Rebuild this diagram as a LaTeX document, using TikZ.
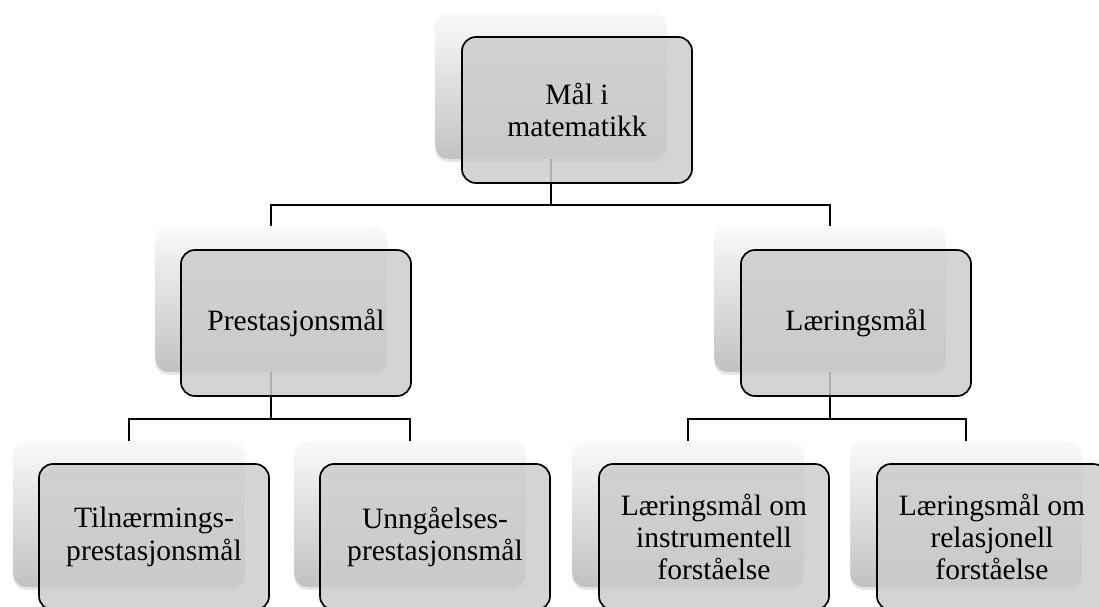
\documentclass[tikz,border=0pt]{standalone}
\usepackage{fontspec}
\setmainfont{Liberation Serif}
\usetikzlibrary{shadows}

\begin{document}
\begin{tikzpicture}[x=0.025cm,y=-0.025cm]
  \tikzset{back box/.style={rounded corners=9pt,minimum width=5.775cm,minimum height=3.65cm,top color=black!2,middle color=black!4,bottom color=black!24,drop shadow={opacity=0.2,shadow xshift=0pt,shadow yshift=-2pt}},
    goal box/.style={draw,line width=1.2pt,rounded corners=10pt,minimum width=5.75cm,minimum height=3.65cm,fill=black!20,fill opacity=0.85,text opacity=1,align=center,font=\fontsize{21}{23}\selectfont},
    link/.style={line width=1pt}}

  \useasboundingbox (0,0) rectangle (1099,606);

  % back boxes
  \node [back box] (malB) at (551,86) {};
  \node [back box] (preB) at (271,299) {};
  \node [back box] (laeB) at (830,299) {};
  \node [back box] (tilB) at (129,514) {};
  \node [back box] (unnB) at (410,514) {};
  \node [back box] (insB) at (688,514) {};
  \node [back box] (relB) at (966,514) {};

  % forks
  \coordinate (malFork) at (551,205);
  \coordinate (preFork) at (271,419);
  \coordinate (laeFork) at (830,419);

  \draw [link] (malB.south) -- (malFork) -| (preB.north);
  \draw [link] (malFork) -| (laeB.north);
  \draw [link] (preB.south) -- (preFork) -| (tilB.north);
  \draw [link] (preFork) -| (unnB.north);
  \draw [link] (laeB.south) -- (laeFork) -| (insB.north);
  \draw [link] (laeFork) -| (relB.north);

  % front boxes
  \node [goal box] (mal) at (577,110) {Mål i\\matematikk};
  \node [goal box] (pre) at (296,323) {Prestasjonsmål};
  \node [goal box] (lae) at (856,323) {Læringsmål};
  \node [goal box] (til) at (154,537) {Tilnærmings-\\prestasjonsmål};
  \node [goal box] (unn) at (435,537) {Unngåelses-\\prestasjonsmål};
  \node [goal box] (ins) at (714,537) {Læringsmål om\\instrumentell\\forståelse};
  \node [goal box] (rel) at (992,537) {Læringsmål om\\relasjonell\\forståelse};
\end{tikzpicture}
\end{document}
